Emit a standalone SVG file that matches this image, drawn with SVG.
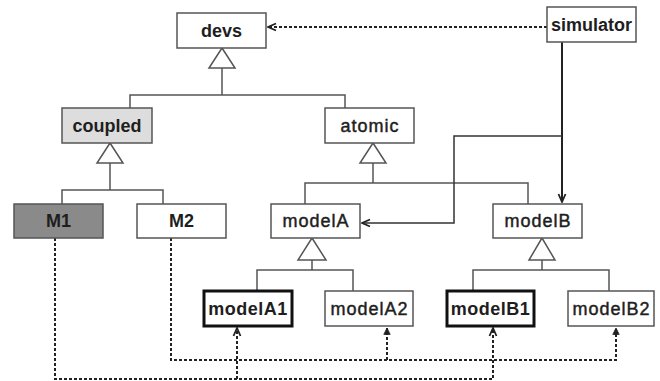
<svg xmlns="http://www.w3.org/2000/svg" width="660" height="381" viewBox="0 0 660 381">
  <style>
    .box { fill: #ffffff; stroke: #555555; stroke-width: 1.5; }
    .thick { fill: #ffffff; stroke: #111111; stroke-width: 3; }
    .light { fill: #dddddd; stroke: #555555; stroke-width: 1.5; }
    .dark { fill: #8a8a8a; stroke: #555555; stroke-width: 1.5; }
    .label { font-family: "Liberation Sans", Arial, sans-serif; font-size: 18px; fill: #1e1e1e; stroke: #1e1e1e; stroke-width: 0.45; text-anchor: middle; letter-spacing: 1px; }
    .strong { font-weight: bold; letter-spacing: 0; stroke-width: 0; }
    .inherit { fill: none; stroke: #555555; stroke-width: 1.5; }
    .tri { fill: #ffffff; stroke: #555555; stroke-width: 1.5; }
    .assoc { fill: none; stroke: #222222; stroke-width: 2; }
    .dep { fill: none; stroke: #222222; stroke-width: 2; stroke-dasharray: 3 2; }
  </style>
  <defs>
    <marker id="openBig" viewBox="0 0 10 10" refX="9" refY="5" markerWidth="10" markerHeight="10" orient="auto" markerUnits="userSpaceOnUse">
      <path d="M1,1.5 L9,5 L1,8.5" fill="none" stroke="#222" stroke-width="1.8"/>
    </marker>
    <marker id="filled" viewBox="0 0 10 10" refX="9" refY="5" markerWidth="8" markerHeight="8" orient="auto" markerUnits="userSpaceOnUse">
      <path d="M1,1 L9,5 L1,9 Z" fill="#222" stroke="#222" stroke-width="1"/>
    </marker>
  </defs>

  <!-- connectors -->
  <g id="connectors">
    <!-- generalisation: devs -->
    <polyline class="inherit" points="130,108 130,95 345,95 345,108"/>
    <line class="inherit" x1="222" y1="95" x2="222" y2="68"/>
    <polygon class="tri" points="222,48 209,68 235,68"/>
    <!-- generalisation: coupled -->
    <polyline class="inherit" points="62,204 62,190 163,190 163,204"/>
    <line class="inherit" x1="110" y1="190" x2="110" y2="163"/>
    <polygon class="tri" points="110,143 97,163 123,163"/>
    <!-- generalisation: atomic -->
    <polyline class="inherit" points="305,204 305,183 528,183 528,204"/>
    <line class="inherit" x1="373" y1="183" x2="373" y2="163"/>
    <polygon class="tri" points="373,143 360,163 386,163"/>
    <!-- generalisation: modelA -->
    <polyline class="inherit" points="257,291 257,270 353,270 353,291"/>
    <line class="inherit" x1="312" y1="270" x2="312" y2="260"/>
    <polygon class="tri" points="312,238 298,260 326,260"/>
    <!-- generalisation: modelB -->
    <polyline class="inherit" points="473,291 473,270 609,270 609,291"/>
    <line class="inherit" x1="542" y1="270" x2="542" y2="260"/>
    <polygon class="tri" points="542,238 529,260 555,260"/>

    <!-- simulator links -->
    <line class="dep" x1="547" y1="27" x2="268" y2="27" marker-end="url(#openBig)"/>
    <line class="assoc" x1="562" y1="42" x2="562" y2="202" marker-end="url(#openBig)"/>
    <polyline class="inherit" style="stroke:#333" points="562,136 454,136 454,223 362,223" marker-end="url(#openBig)"/>

    <!-- instance links from M1 -->
    <polyline class="dep" points="55,238 55,379 493,379 493,328" marker-end="url(#openBig)"/>
    <line class="dep" x1="237" y1="379" x2="237" y2="328" marker-end="url(#openBig)"/>
    <!-- instance links from M2 -->
    <polyline class="dep" points="171,238 171,360 616,360 616,328" marker-end="url(#filled)"/>
    <line class="dep" x1="387" y1="360" x2="387" y2="328" marker-end="url(#filled)"/>
  </g>

  <g id="devs">
    <rect class="box" x="177" y="13" width="89" height="35"/>
    <text class="label strong" x="221.5" y="37">devs</text>
  </g>
  <g id="simulator">
    <rect class="box" x="547" y="7" width="89" height="35"/>
    <text class="label strong" x="591.5" y="31">simulator</text>
  </g>
  <g id="coupled">
    <rect class="light" x="62" y="108" width="90" height="35"/>
    <text class="label strong" x="107" y="132">coupled</text>
  </g>
  <g id="atomic">
    <rect class="box" x="325" y="108" width="89" height="35"/>
    <text class="label" x="370" y="132">atomic</text>
  </g>
  <g id="M1">
    <rect class="dark" x="14" y="204" width="89" height="34"/>
    <text class="label strong" x="58.5" y="227">M1</text>
  </g>
  <g id="M2">
    <rect class="box" x="137" y="204" width="89" height="34"/>
    <text class="label strong" x="181.5" y="227">M2</text>
  </g>
  <g id="modelA">
    <rect class="box" x="271" y="204" width="89" height="34"/>
    <text class="label" x="316" y="227">modelA</text>
  </g>
  <g id="modelB">
    <rect class="box" x="493" y="204" width="89" height="34"/>
    <text class="label" x="538" y="227">modelB</text>
  </g>
  <g id="modelA1">
    <rect class="thick" x="204" y="291" width="88" height="35"/>
    <text class="label strong" x="248" y="315" style="letter-spacing:0.5px">modelA1</text>
  </g>
  <g id="modelA2">
    <rect class="box" x="325" y="291" width="88" height="35"/>
    <text class="label" x="369.5" y="315">modelA2</text>
  </g>
  <g id="modelB1">
    <rect class="thick" x="447" y="291" width="87" height="35"/>
    <text class="label strong" x="490.5" y="315" style="letter-spacing:0.5px">modelB1</text>
  </g>
  <g id="modelB2">
    <rect class="box" x="568" y="291" width="86" height="35"/>
    <text class="label" x="611.5" y="315">modelB2</text>
  </g>
</svg>
